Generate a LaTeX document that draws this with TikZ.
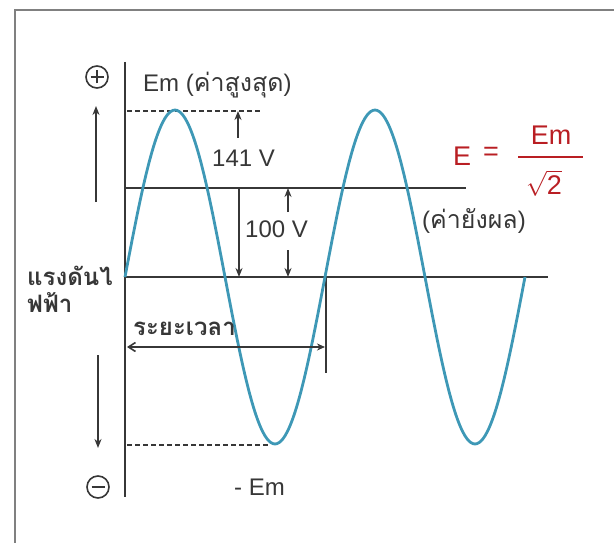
\documentclass[tikz,border=0pt]{standalone}
\usepackage{fontspec}
\setmainfont{Liberation Sans}
\newfontfamily\thai[Script=Thai]{Loma}
\usetikzlibrary{arrows.meta}
\definecolor{wave}{RGB}{62,152,182}
\definecolor{ink}{RGB}{55,55,55}
\definecolor{eqred}{RGB}{185,30,35}
\begin{document}
\begin{tikzpicture}[x=1pt,y=-1pt,
  txt/.style={inner sep=0pt, anchor=base west, text=ink, font=\fontsize{24}{28}\selectfont},
  eq/.style={inner sep=0pt, text=eqred, font=\fontsize{27}{32}\selectfont},
  axisline/.style={draw=ink, line width=2pt},
  guide/.style={draw=ink, line width=2pt, dash pattern=on 5pt off 3pt},
  arr/.style={draw=ink, line width=1.6pt, -{Stealth[length=9pt,width=7pt]}},
  sign/.style={draw=ink, line width=1.6pt, circle, minimum size=22pt, inner sep=0pt}]
\useasboundingbox (0,0) rectangle (614,543);
% frame
\draw[draw=gray, line width=2.5pt] (15,543) -- (15,10) -- (614,10);
% coordinates
\coordinate (axT) at (125,62);
\coordinate (axB) at (125,497);
\coordinate (z0) at (125,277);
\coordinate (z1) at (548,277);
\coordinate (m0) at (125,188);
\coordinate (m1) at (466,188);
\coordinate (pk0) at (127,111);
\coordinate (pk1) at (260,111);
\coordinate (tr0) at (127,445);
\coordinate (tr1) at (268,445);
\coordinate (tk0) at (326,277);
\coordinate (tk1) at (326,373);
\coordinate (ta0) at (127,347);
\coordinate (ta1) at (325,347);
\coordinate (upT) at (96,106);
\coordinate (upB) at (96,202);
\coordinate (dnT) at (98,355);
\coordinate (dnB) at (98,448);
\coordinate (a141B) at (238,138);
\coordinate (a141T) at (238,111);
\coordinate (a100T) at (239,188);
\coordinate (a100B) at (239,277);
\coordinate (s1B) at (288,212);
\coordinate (s1T) at (288,188);
\coordinate (s2T) at (288,250);
\coordinate (s2B) at (288,277);
% lines
\draw[axisline] (axT) -- (axB);
\draw[axisline] (z0) -- (z1);
\draw[axisline] (m0) -- (m1);
\draw[guide] (pk0) -- (pk1);
\draw[guide] (tr0) -- (tr1);
\draw[draw=ink, line width=1.6pt] (tk0) -- (tk1);
% wave
\draw[wave, line width=2.8pt] plot[domain=125:525, samples=201, smooth] (\x, {277-167*sin((\x-125)*1.8)});
% arrows
\draw[arr] (upB) -- (upT);
\draw[arr] (dnT) -- (dnB);
\draw[arr] (a141B) -- (a141T);
\draw[arr] (a100T) -- (a100B);
\draw[arr] (s1B) -- (s1T);
\draw[arr] (s2T) -- (s2B);
\draw[draw=ink, line width=1.6pt, {Straight Barb[length=7pt,width=9pt]}-{Stealth[length=8pt,width=7pt]}] (ta0) -- (ta1);
% signs
\node[sign] (plus) at (97,77) {};
\draw[ink, line width=1.8pt] ([xshift=-6.5pt]plus.center) -- ([xshift=6.5pt]plus.center) ([yshift=-6.5pt]plus.center) -- ([yshift=6.5pt]plus.center);
\node[sign] (minus) at (98,487) {};
\draw[ink, line width=1.8pt] ([xshift=-6.5pt]minus.center) -- ([xshift=6.5pt]minus.center);
% labels
\node[txt] (emmax) at (143,92) {Em ({\thai\fontsize{25}{28}\selectfont ค่าสูงสุด})};
\node[txt] (v141) at (212,167) {141 V};
\node[txt] (v100) at (245,237) {100 V};
\node[txt] (rms) at (422,228) {({\thai\fontsize{25}{28}\selectfont ค่ายังผล})};
\node[txt, font=\fontsize{24}{28}\selectfont\thai\bfseries] (volt1) at (27,285) {แรงดันไ};
\node[txt, font=\fontsize{24}{28}\selectfont\thai\bfseries] (volt2) at (27,312) {ฟฟ้า};
\node[txt, font=\fontsize{24}{28}\selectfont\thai\bfseries] (time) at (133,335) {ระยะเวลา};
\node[txt] (emmin) at (234,495) {- Em};
% formula
\node[eq, anchor=base west] (E) at (453,165) {E};
\node[eq, anchor=center] (eqs) at (491,154) {=};
\node[eq, anchor=base] (num) at (551,144) {Em};
\draw[eqred, line width=1.8pt] (518,157) -- (583,157);
\node[eq, anchor=base] (den) at (544,194) {$\sqrt{\mbox{2}}$};
\end{tikzpicture}
\end{document}
